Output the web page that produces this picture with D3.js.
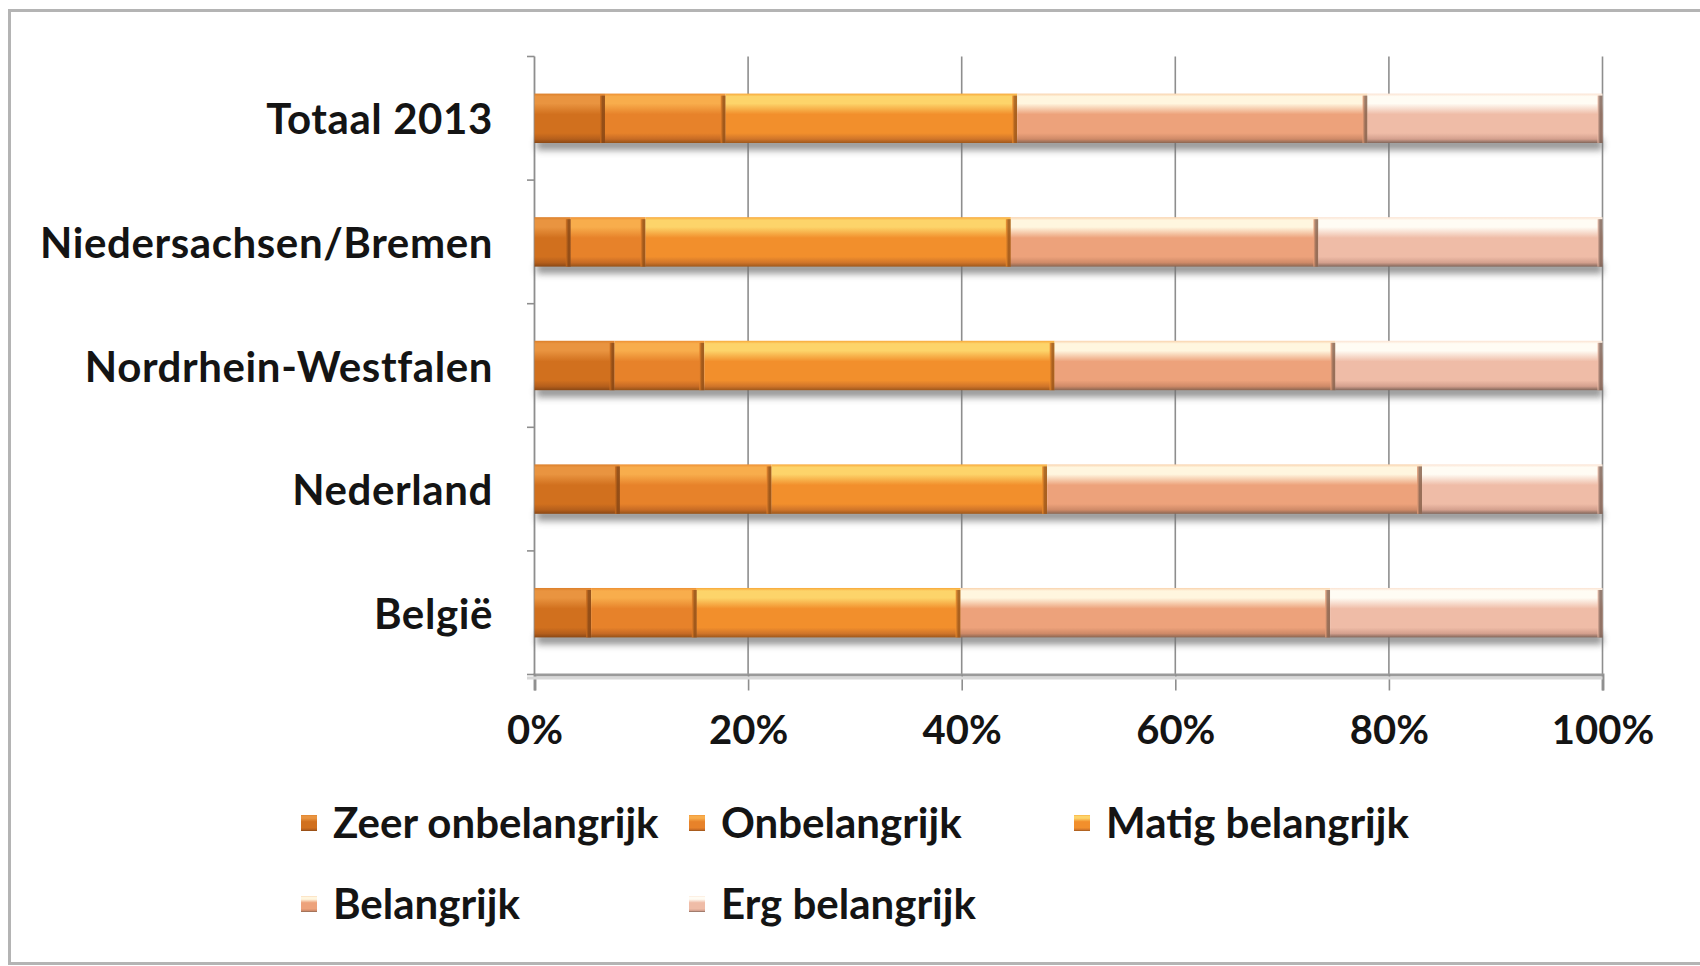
<!DOCTYPE html>
<html>
<head>
<meta charset="utf-8">
<script src="https://cdn.jsdelivr.net/npm/d3@7"></script>
<style>
html,body{margin:0;padding:0;background:#fff;}
svg{display:block;}
text{font-family:Lato,"Open Sans",sans-serif;font-weight:700;fill:#141414;}
</style>
</head>
<body>
<svg id="chart" width="1700" height="966"></svg>
<script>
// ---- data ----
const categories = ["Totaal 2013","Niedersachsen/Bremen","Nordrhein-Westfalen","Nederland","België"];
const seriesNames = ["Zeer onbelangrijk","Onbelangrijk","Matig belangrijk","Belangrijk","Erg belangrijk"];
const zeerOnbelangrijk = [6.6, 3.4, 7.5, 8.0, 5.3];
const onbelangrijk     = [11.3, 7.0, 8.4, 14.2, 9.9];
const matigBelangrijk  = [27.3, 34.2, 32.8, 25.8, 24.7];
const belangrijk       = [32.8, 28.8, 26.3, 35.1, 34.6];
const ergBelangrijk    = [22.0, 26.6, 25.0, 16.9, 25.5];
const xTicks = [0, 0.2, 0.4, 0.6, 0.8, 1.0];

const seriesValues = [zeerOnbelangrijk, onbelangrijk, matigBelangrijk, belangrijk, ergBelangrijk];
const table = categories.map((c, i) => {
  const row = {category: c};
  seriesNames.forEach((s, j) => row[s] = seriesValues[j][i]);
  return row;
});

// ---- styles ----
const palettes = [
  {hi:"#e99440", top:"#dc7f2a", base:"#d1701e", low:"#b55f1c", edge:"#8a4815"},
  {hi:"#f8ad4c", top:"#ee9033", base:"#e7822a", low:"#c76b25", edge:"#955218"},
  {hi:"#fdd46a", top:"#f8a83a", base:"#f28f2c", low:"#d0752a", edge:"#9e581c"},
  {hi:"#fff6df", top:"#f9d2ad", base:"#eda27b", low:"#cf8a68", edge:"#8a6652"},
  {hi:"#fffcf4", top:"#fbe3d2", base:"#efbca7", low:"#d4a08e", edge:"#82665a"}
];

const svg = d3.select("#chart");
const W = 1700, H = 966;

// outer frame
svg.append("rect").attr("x", 9.5).attr("y", 10.5).attr("width", W + 20).attr("height", 953)
  .attr("fill", "#fff").attr("stroke", "#b4b4b4").attr("stroke-width", 3);

const defs = svg.append("defs");
palettes.forEach((p, i) => {
  const g = defs.append("linearGradient").attr("id", "grad" + i)
    .attr("x1", 0).attr("y1", 0).attr("x2", 0).attr("y2", 1);
  [[0, p.top], [0.06, p.hi], [0.2, p.hi], [0.42, p.base], [0.8, p.base], [0.92, p.low], [1, p.edge]]
    .forEach(([o, c]) => g.append("stop").attr("offset", o).attr("stop-color", c));
  const e = defs.append("linearGradient").attr("id", "edge" + i)
    .attr("x1", 0).attr("y1", 0).attr("x2", 1).attr("y2", 0);
  [[0, p.base], [0.5, p.edge], [1, p.edge]].forEach(([o, c]) => e.append("stop").attr("offset", o).attr("stop-color", c));
});
defs.append("filter").attr("id", "blur").attr("x", "-5%").attr("y", "-100%").attr("width", "110%").attr("height", "300%")
  .append("feGaussianBlur").attr("stdDeviation", 3.5);

// ---- scales ----
const x = d3.scaleLinear().domain([0, 1]).range([534.5, 1602.5]);
const y = d3.scaleBand().domain(categories).range([56.5, 674.5]).paddingInner(0.6).paddingOuter(0.3);
const step = y.step();

// gridlines
svg.append("g").selectAll("line").data(xTicks.slice(1)).join("line")
  .attr("x1", d => x(d)).attr("x2", d => x(d))
  .attr("y1", 56.5).attr("y2", 674.5)
  .attr("stroke", "#8e8e8e").attr("stroke-width", 1.6);

// x axis
const xAxis = d3.axisBottom(x).tickValues(xTicks).tickFormat(d3.format(".0%")).tickSize(16).tickPadding(25);
const gx = svg.append("g").attr("transform", "translate(0,674.5)").call(xAxis);
gx.select(".domain").attr("stroke", "#9a9a9a").attr("stroke-width", 3);
gx.selectAll(".tick line").attr("stroke", "#8e8e8e").attr("stroke-width", 1.6);
gx.selectAll(".tick text").attr("font-size", 40).attr("fill", "#141414").attr("dy", "0.72em")
  .attr("font-family", "Lato,sans-serif").attr("font-weight", 700);
svg.append("line").attr("x1", 527).attr("x2", 1602.5).attr("y1", 678).attr("y2", 678)
  .attr("stroke", "#d8d8d8").attr("stroke-width", 3);

// y axis
svg.append("line").attr("x1", 534.5).attr("x2", 534.5).attr("y1", 56.5).attr("y2", 674.5)
  .attr("stroke", "#8e8e8e").attr("stroke-width", 1.8);
svg.append("g").selectAll("line").data(d3.range(categories.length + 1)).join("line")
  .attr("x1", 527).attr("x2", 534.5)
  .attr("y1", i => 56.5 + i * step).attr("y2", i => 56.5 + i * step)
  .attr("stroke", "#8e8e8e").attr("stroke-width", 1.6);
svg.append("g").selectAll("text").data(categories).join("text")
  .attr("x", 493).attr("y", d => y(d) + y.bandwidth() / 2 + 16)
  .attr("text-anchor", "end").attr("font-size", 42).attr("letter-spacing", 0.6)
  .text(d => d);

// ---- bars ----
const stack = d3.stack().keys(seriesNames).offset(d3.stackOffsetExpand);
const stacked = stack(table);

const bars = svg.append("g");
// shadows under bars
bars.append("g").selectAll("rect").data(categories).join("rect")
  .attr("x", x(0) + 2).attr("width", x(1) - x(0) - 2)
  .attr("y", d => y(d) + y.bandwidth() - 4).attr("height", 11)
  .attr("fill", "#707070").attr("opacity", 0.75).attr("filter", "url(#blur)");
categories.forEach((c, ci) => {
  const bg = bars.append("g");
  stacked.forEach((s, si) => {
    const d = s[ci];
    const x0 = x(d[0]), x1 = x(d[1]);
    bg.append("rect").attr("x", x0).attr("y", y(c)).attr("width", x1 - x0).attr("height", y.bandwidth())
      .attr("fill", "url(#grad" + si + ")");
    bg.append("rect").attr("x", x1 - 5).attr("y", y(c) + 2).attr("width", 5).attr("height", y.bandwidth() - 2)
      .attr("fill", "url(#edge" + si + ")").attr("opacity", 0.85);
  });
});

// ---- legend ----
const legendPos = [
  {x: 333, y: 823}, {x: 721, y: 823}, {x: 1106, y: 823},
  {x: 333, y: 904}, {x: 721, y: 904}
];
const lg = svg.append("g");
seriesNames.forEach((s, i) => {
  const p = legendPos[i];
  lg.append("rect").attr("x", p.x - 32).attr("y", p.y - 8).attr("width", 16).attr("height", 16)
    .attr("fill", "url(#grad" + i + ")");
  lg.append("text").attr("x", p.x).attr("y", p.y + 15).attr("font-size", 42).text(s);
});
</script>
</body>
</html>
